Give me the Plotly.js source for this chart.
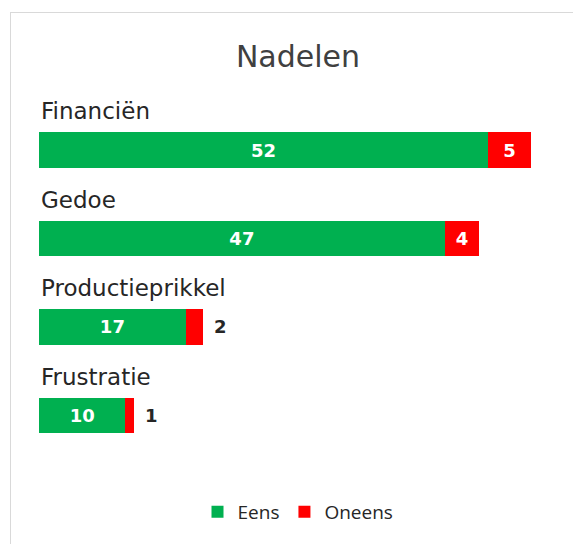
<!DOCTYPE html>
<html>
<head>
<meta charset="utf-8">
<script src="https://cdn.plot.ly/plotly-3.0.1.min.js"></script>
<style>
html,body{margin:0;padding:0;background:#fff;overflow:hidden;}
#frame{position:absolute;left:10px;top:12px;width:700px;height:700px;border:1px solid #d9d9d9;box-sizing:border-box;}
#chart{position:absolute;left:0;top:0;width:573px;height:544px;}
</style>
</head>
<body>
<div id="frame"></div>
<div id="chart"></div>
<script>
const categories = ["Financiën", "Gedoe", "Productieprikkel", "Frustratie"];
const eens = [52, 47, 17, 10];
const oneens = [5, 4, 2, 1];
const seriesNames = ["Eens", "Oneens"];

const green = "#00B050";
const red = "#FF0000";
const labelFont = "DejaVu Sans, sans-serif";
const ypos = categories.map((c, i) => i);

// red labels: inside when bar is wide enough, otherwise outside (annotation)
const redInside = oneens.map(v => v >= 3);

const traces = [
  {
    type: "bar", orientation: "h", name: seriesNames[0],
    y: ypos, x: eens, width: 0.4,
    marker: {color: green},
    text: eens.map(String), textposition: "inside", insidetextanchor: "middle",
    constraintext: "none",
    textfont: {family: labelFont, size: 18, color: "#ffffff", weight: "bold"},
    hoverinfo: "skip"
  },
  {
    type: "bar", orientation: "h", name: seriesNames[1],
    y: ypos, x: oneens, width: 0.4,
    marker: {color: red},
    text: oneens.map((v, i) => redInside[i] ? String(v) : ""),
    textposition: "inside", insidetextanchor: "middle",
    constraintext: "none",
    textfont: {family: labelFont, size: 18, color: "#ffffff", weight: "bold"},
    hoverinfo: "skip"
  }
];

const annotations = [];
categories.forEach((c, i) => {
  annotations.push({
    x: 0, y: i - 0.44, xref: "x", yref: "y", text: c, showarrow: false,
    xanchor: "left", yanchor: "middle", xshift: 0,
    font: {family: labelFont, size: 23, color: "#262626"}
  });
  if (!redInside[i]) {
    annotations.push({
      x: eens[i] + oneens[i], y: i, xref: "x", yref: "y", text: "<b>" + oneens[i] + "</b>",
      showarrow: false, xanchor: "left", yanchor: "middle", xshift: 9,
      font: {family: labelFont, size: 18, color: "#262626"}
    });
  }
});

const layout = {
  width: 573, height: 544,
  paper_bgcolor: "rgba(0,0,0,0)", plot_bgcolor: "rgba(0,0,0,0)",
  barmode: "stack",
  margin: {l: 39, r: 16, t: 60, b: 74},
  title: {text: "Nadelen", x: 0.52, xanchor: "center", y: 0.897, yanchor: "middle",
          font: {family: labelFont, size: 30, color: "#404040"}},
  xaxis: {range: [0, 60], visible: false, fixedrange: true},
  yaxis: {range: [3.616, -1.017], visible: false, fixedrange: true},
  showlegend: true,
  legend: {orientation: "h", x: 0.5, xanchor: "center", y: -0.102, yanchor: "middle",
           font: {family: "Open Sans, sans-serif", size: 19, color: "#262626"},
           itemwidth: 30, traceorder: "normal"},
  annotations: annotations
};

Plotly.newPlot("chart", traces, layout, {displayModeBar: false, staticPlot: true});
</script>
</body>
</html>
